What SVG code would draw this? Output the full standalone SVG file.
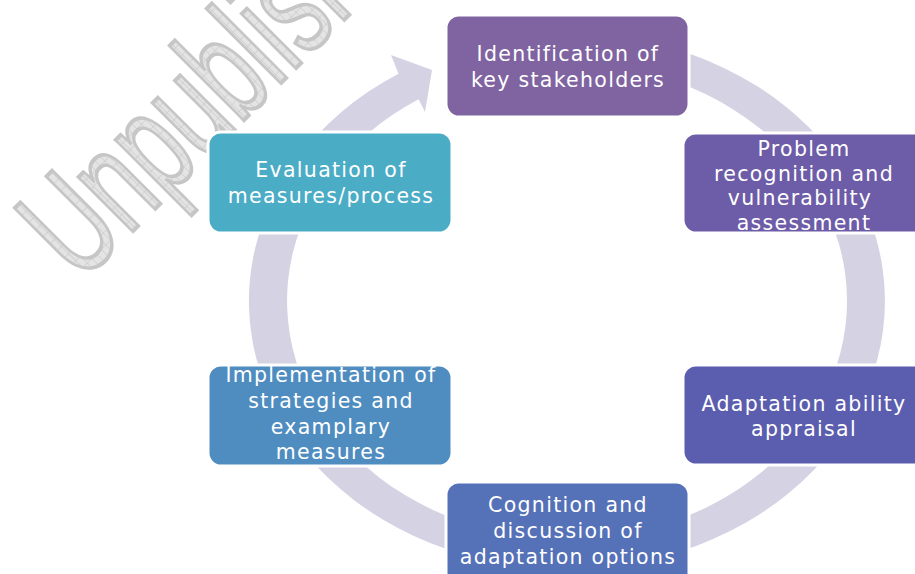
<svg xmlns="http://www.w3.org/2000/svg" width="915" height="574" viewBox="0 0 915 574">
  <defs>
    <pattern id="hatch" width="10" height="10" patternUnits="userSpaceOnUse">
      <rect width="10" height="10" fill="#e4e4e4"/>
      <path d="M0 0H10M0 0V10" stroke="#bdbdbd" stroke-width="1"/>
    </pattern>
    <style>
      .box { stroke: #ffffff; stroke-width: 3; }
      .lbl { font-family: "DejaVu Sans", "Open Sans", sans-serif; font-size: 20.5px; fill: #ffffff; text-anchor: middle; letter-spacing: 1.3px; }
      .ring { fill: #d5d2e3; }
      .wm { font-family: "Liberation Sans", Arial, sans-serif; font-size: 145px; fill: url(#hatch); stroke: #c6c6c6; stroke-width: 4; }
    </style>
  </defs>
  <rect width="915" height="574" fill="#ffffff"/>

  <g id="watermark" transform="translate(80,284) rotate(-45) scale(0.65,1)">
    <text class="wm" x="0" y="0">Unpublished</text>
  </g>

  <g id="connectors">
    <path class="ring" d="M 622.2,37.1 A 318 268 0 1 1 398.5,73.7 L 391,55 L 432,70 L 425,112 L 418.6,99.2 A 280 238 0 1 0 615.6,66.6 Z"/>
  </g>

  <g id="node-identification">
    <rect class="box" x="446" y="15" width="243" height="102" rx="13" fill="#8064a2"/>
    <text class="lbl" x="568" y="61">Identification of</text>
    <text class="lbl" x="568" y="87">key stakeholders</text>
  </g>

  <g id="node-problem">
    <rect class="box" x="683" y="133" width="250" height="100" rx="13" fill="#6d5ca7"/>
    <text class="lbl" x="804" y="156">Problem</text>
    <text class="lbl" x="804" y="180.5">recognition and</text>
    <text class="lbl" x="800" y="205">vulnerability</text>
    <text class="lbl" x="804" y="229.5">assessment</text>
  </g>

  <g id="node-adaptation">
    <rect class="box" x="683" y="365" width="250" height="100" rx="13" fill="#5b5dae"/>
    <text class="lbl" x="804" y="411">Adaptation ability</text>
    <text class="lbl" x="804" y="436">appraisal</text>
  </g>

  <g id="node-cognition">
    <rect class="box" x="446" y="482" width="243" height="110" rx="13" fill="#5571b8"/>
    <text class="lbl" x="568" y="512">Cognition and</text>
    <text class="lbl" x="568" y="538">discussion of</text>
    <text class="lbl" x="568" y="564">adaptation options</text>
  </g>

  <g id="node-implementation">
    <rect class="box" x="208" y="365" width="244" height="101" rx="13" fill="#4f8dc1"/>
    <text class="lbl" x="331" y="382">Implementation of</text>
    <text class="lbl" x="331" y="408">strategies and</text>
    <text class="lbl" x="331" y="433.5">examplary</text>
    <text class="lbl" x="331" y="459">measures</text>
  </g>

  <g id="node-evaluation">
    <rect class="box" x="208" y="132" width="244" height="101" rx="13" fill="#4bacc6"/>
    <text class="lbl" x="331" y="177">Evaluation of</text>
    <text class="lbl" x="331" y="203">measures/process</text>
  </g>
</svg>
